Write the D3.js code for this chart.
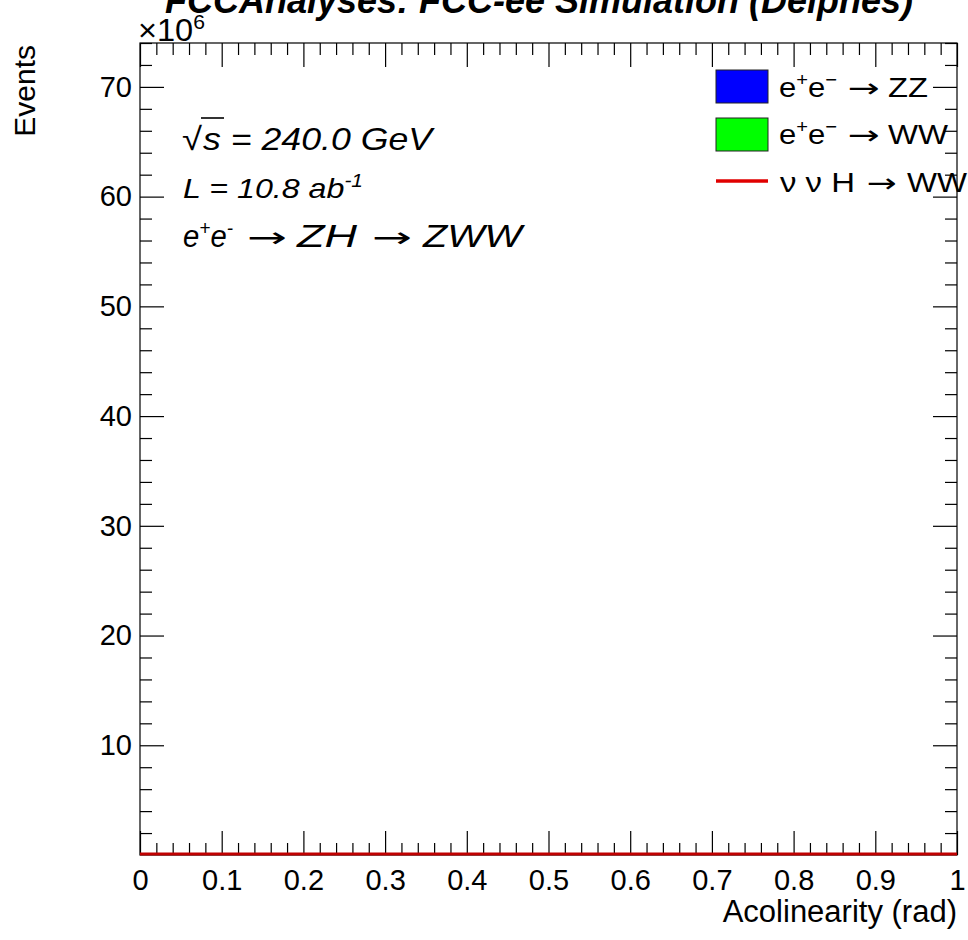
<!DOCTYPE html>
<html>
<head>
<meta charset="utf-8">
<script src="https://cdn.jsdelivr.net/npm/d3@7"></script>
<style>
  html, body { margin: 0; padding: 0; background: #fff; }
  svg { display: block; font-family: "Liberation Sans", Arial, Helvetica, sans-serif; }
</style>
</head>
<body>
<svg id="chart" width="968" height="940"></svg>
<script>
// ---------------- data ----------------
const binEdges = [0, 0.05, 0.1, 0.15, 0.2, 0.25, 0.3, 0.35, 0.4, 0.45, 0.5,
                  0.55, 0.6, 0.65, 0.7, 0.75, 0.8, 0.85, 0.9, 0.95, 1.0];
// events in units of 10^6 (all bins effectively empty on this scale)
const zzValues  = [0, 0, 0, 0, 0, 0, 0, 0, 0, 0, 0, 0, 0, 0, 0, 0, 0, 0, 0, 0];
const wwValues  = [0, 0, 0, 0, 0, 0, 0, 0, 0, 0, 0, 0, 0, 0, 0, 0, 0, 0, 0, 0];
const hwwValues = [0, 0, 0, 0, 0, 0, 0, 0, 0, 0, 0, 0, 0, 0, 0, 0, 0, 0, 0, 0];
const xMajorTicks = [0, 0.1, 0.2, 0.3, 0.4, 0.5, 0.6, 0.7, 0.8, 0.9, 1.0];
const xTickLabels = ["0", "0.1", "0.2", "0.3", "0.4", "0.5", "0.6", "0.7", "0.8", "0.9", "1"];
const yMajorTicks = [10, 20, 30, 40, 50, 60, 70];
const yTickLabels = ["10", "20", "30", "40", "50", "60", "70"];
const xDomain = [0, 1];
const yDomain = [0, 74];
const seriesNames = ["e+e- → ZZ", "e+e- → WW", "ν ν H → WW"];

// ---------------- layout ----------------
const L = 140, R = 957, T = 43, B = 855;
const svg = d3.select("#chart");
const x = d3.scaleLinear().domain(xDomain).range([L, R]);
const y = d3.scaleLinear().domain(yDomain).range([B, T]);

const xMinor = d3.range(0, 1.0001, 0.02).map(v => +v.toFixed(2)).filter(v => !xMajorTicks.some(m => Math.abs(m - v) < 1e-9));
const yMinor = d3.range(0, 74.001, 2).filter(v => v % 10 !== 0);

// ---------------- histograms (stacked ZZ + WW, line for vvH) ----------------
const bins = zzValues.map((v, i) => ({x0: binEdges[i], x1: binEdges[i + 1], zz: v, ww: wwValues[i], hww: hwwValues[i]}));
const g = svg.append("g");
g.selectAll("rect.zz").data(bins).join("rect").attr("class", "zz")
  .attr("x", d => x(d.x0)).attr("width", d => x(d.x1) - x(d.x0))
  .attr("y", d => y(d.zz)).attr("height", d => y(0) - y(d.zz))
  .attr("fill", "#0000ff");
g.selectAll("rect.ww").data(bins).join("rect").attr("class", "ww")
  .attr("x", d => x(d.x0)).attr("width", d => x(d.x1) - x(d.x0))
  .attr("y", d => y(d.zz + d.ww)).attr("height", d => y(d.zz) - y(d.zz + d.ww))
  .attr("fill", "#00ff00");

// frame
svg.append("rect").attr("x", L).attr("y", T).attr("width", R - L).attr("height", B - T)
  .attr("fill", "none").attr("stroke", "#000").attr("stroke-width", 1.2);

// ---------------- axes ----------------
const axStyle = sel => {
  sel.select(".domain").remove();
  sel.selectAll(".tick line").attr("stroke", "#000").attr("stroke-width", 1.2);
  sel.selectAll("text").attr("font-size", 29).attr("fill", "#000")
    .attr("font-family", "'Liberation Sans', Arial, sans-serif");
};
svg.append("g").attr("transform", `translate(0,${B})`)
  .call(d3.axisBottom(x).tickValues(xMajorTicks).tickSize(-24).tickPadding(14)
    .tickFormat((d, i) => xTickLabels[i])).call(axStyle);
svg.append("g").attr("transform", `translate(0,${B})`)
  .call(d3.axisBottom(x).tickValues(xMinor).tickSize(-12).tickFormat("")).call(axStyle);
svg.append("g").attr("transform", `translate(0,${T})`)
  .call(d3.axisTop(x).tickValues(xMajorTicks).tickSize(-24).tickFormat("")).call(axStyle);
svg.append("g").attr("transform", `translate(0,${T})`)
  .call(d3.axisTop(x).tickValues(xMinor).tickSize(-12).tickFormat("")).call(axStyle);
svg.append("g").attr("transform", `translate(${L},0)`)
  .call(d3.axisLeft(y).tickValues(yMajorTicks).tickSize(-24).tickPadding(8)
    .tickFormat((d, i) => yTickLabels[i])).call(axStyle);
svg.append("g").attr("transform", `translate(${L},0)`)
  .call(d3.axisLeft(y).tickValues(yMinor).tickSize(-12).tickFormat("")).call(axStyle);
svg.append("g").attr("transform", `translate(${R},0)`)
  .call(d3.axisRight(y).tickValues(yMajorTicks).tickSize(-24).tickFormat("")).call(axStyle);
svg.append("g").attr("transform", `translate(${R},0)`)
  .call(d3.axisRight(y).tickValues(yMinor).tickSize(-12).tickFormat("")).call(axStyle);

// vvH -> WW step line
const stepPts = [];
bins.forEach(d => { stepPts.push([x(d.x0), y(d.hww)]); stepPts.push([x(d.x1), y(d.hww)]); });
svg.append("path").attr("d", d3.line()(stepPts)).attr("fill", "none")
  .attr("stroke", "#c00000").attr("stroke-width", 3).attr("transform", "translate(0,-1)");

// ---------------- text helpers ----------------
function piece(parent, px, py, parts, size, len, italic) {
  const t = parent.append("text").attr("x", px).attr("y", py).attr("font-size", size)
    .attr("font-style", italic ? "italic" : "normal");
  if (len) t.attr("textLength", len).attr("lengthAdjust", "spacingAndGlyphs");
  let raised = false;
  parts.forEach(([s, kind]) => {
    const ts = t.append("tspan").text(s);
    if (kind === "sup" && !raised) { ts.attr("dy", -size * 0.4).attr("font-size", size * 0.65); raised = true; }
    else if (kind === "sup") { ts.attr("font-size", size * 0.65); }
    else if (raised) { ts.attr("dy", size * 0.4); raised = false; }
  });
  return t;
}
// horizontally stretched arrow (ROOT-style long arrow)
function arrow(parent, px, py, size, len) {
  const t = parent.append("text").attr("font-size", size)
    .attr("font-family", "'DejaVu Sans', sans-serif").text("→");
  const w = t.node().getComputedTextLength() || size * 0.84;
  t.attr("transform", `translate(${px},${py}) scale(${len / w},1)`);
  return t;
}

// ---------------- texts ----------------
svg.append("text").attr("x", 539).attr("y", 13).attr("text-anchor", "middle")
  .attr("font-size", 36).attr("font-weight", "bold").attr("font-style", "italic")
  .text("FCCAnalyses: FCC-ee Simulation (Delphes)");

piece(svg, 138, 41, [["×10", null], ["6", "sup"]], 31, 67, false);

svg.append("text").attr("x", R).attr("y", 922).attr("text-anchor", "end")
  .attr("font-size", 31).text("Acolinearity (rad)");
svg.append("text").attr("transform", "translate(35,45) rotate(-90)").attr("text-anchor", "end")
  .attr("font-size", 30).text("Events");

// annotation block
const ann = svg.append("g");
piece(ann, 182, 150, [["√", null]], 32, 20, false);
ann.append("line").attr("x1", 201).attr("x2", 224).attr("y1", 118).attr("y2", 118)
  .attr("stroke", "#000").attr("stroke-width", 1.6);
piece(ann, 203, 150, [["s = 240.0 GeV", null]], 32, 229, true);
piece(ann, 183, 198, [["L = 10.8 ab", null], ["-1", "sup"]], 28, 180, true);
piece(ann, 183, 247, [["e", null], ["+", "sup"], ["e", null], ["-", "sup"]], 31, 50, true);
arrow(ann, 247, 247, 28, 40);
piece(ann, 297, 247, [["ZH", null]], 31, 60, true);
arrow(ann, 372, 247, 28, 40);
piece(ann, 423, 247, [["ZWW", null]], 31, 99, true);

// legend
const leg = svg.append("g");
leg.append("rect").attr("x", 716).attr("y", 70).attr("width", 52).attr("height", 33)
  .attr("fill", "#0000ff").attr("stroke", "#222").attr("stroke-width", 1);
leg.append("rect").attr("x", 716).attr("y", 118).attr("width", 52).attr("height", 33)
  .attr("fill", "#00ff00").attr("stroke", "#222").attr("stroke-width", 1);
leg.append("line").attr("x1", 716).attr("x2", 768).attr("y1", 181).attr("y2", 181)
  .attr("stroke", "#e00000").attr("stroke-width", 3.5);
const rowY = [97, 144, 192];
[0, 1].forEach(i => {
  const proc = seriesNames[i].split("→")[1].trim();
  piece(leg, 779, rowY[i], [["e", null], ["+", "sup"], ["e", null], ["−", "sup"]], 28, 58, false);
  arrow(leg, 848, rowY[i], 26, 32);
  piece(leg, 888, rowY[i], [[proc, null]], 28, proc === "ZZ" ? 40 : 60, false);
});
piece(leg, 780, rowY[2], [["ν ν H", null]], 28, 75, false);
arrow(leg, 867, rowY[2], 26, 30);
piece(leg, 907, rowY[2], [["WW", null]], 28, 60, false);
</script>
</body>
</html>
